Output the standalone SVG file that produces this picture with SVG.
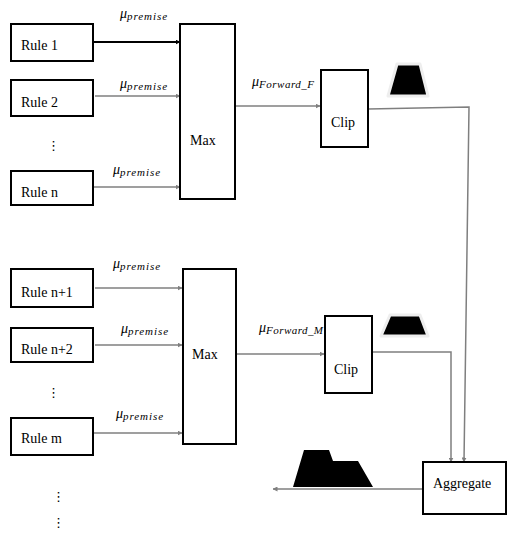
<svg xmlns="http://www.w3.org/2000/svg" width="518" height="537" viewBox="0 0 518 537">
<defs>
<style>
.box{fill:#fff;stroke:#000;stroke-width:2}
.t{font-family:'Liberation Serif','Times New Roman',serif;font-size:14px;fill:#000}
.mu{font-family:'Liberation Serif','Times New Roman',serif;font-style:italic;font-size:14px;fill:#000}
.sub{font-family:'Liberation Serif','Times New Roman',serif;font-style:italic;font-size:11px;fill:#000}
.ln{fill:none;stroke:#7f7f7f;stroke-width:1.5}
.dots{font-family:'DejaVu Sans',sans-serif;font-size:13px;fill:#000}
.shape{fill:#000;stroke:#eeeeee;stroke-width:3;stroke-linejoin:round}
</style>
<marker id="ag" viewBox="0 0 10 10" refX="9" refY="5" markerWidth="5" markerHeight="5" orient="auto" markerUnits="userSpaceOnUse"><path d="M0,0 L10,5 L0,10 z" fill="#7f7f7f"/></marker>
<marker id="ab" viewBox="0 0 10 10" refX="9" refY="5" markerWidth="5" markerHeight="5" orient="auto" markerUnits="userSpaceOnUse"><path d="M0,0 L10,5 L0,10 z" fill="#000"/></marker>
</defs>

<g id="connectors">
<line x1="93" y1="42" x2="180" y2="42" stroke="#000" stroke-width="1.8" marker-end="url(#ab)"/>
<line class="ln" x1="95" y1="96" x2="180" y2="96" marker-end="url(#ag)"/>
<line class="ln" x1="93" y1="187" x2="180" y2="187" marker-end="url(#ag)"/>
<line class="ln" x1="235" y1="106" x2="320" y2="106" marker-end="url(#ag)"/>
<line class="ln" x1="95" y1="288" x2="182" y2="288" marker-end="url(#ag)"/>
<line class="ln" x1="95" y1="345" x2="182" y2="345" marker-end="url(#ag)"/>
<line class="ln" x1="93" y1="433" x2="182" y2="433" marker-end="url(#ag)"/>
<line class="ln" x1="236" y1="354" x2="324" y2="354" marker-end="url(#ag)"/>
<polyline class="ln" points="368,109 469,107 464,462" marker-end="url(#ag)"/>
<polyline class="ln" points="372,352 451,352 451,462" marker-end="url(#ag)"/>
<line class="ln" x1="423" y1="489" x2="273" y2="489" marker-end="url(#ag)"/>
</g>

<g id="labels">
<text x="120" y="18"><tspan class="mu">μ</tspan><tspan class="sub" dy="2" textLength="40">premise</tspan></text>
<text x="120" y="88"><tspan class="mu">μ</tspan><tspan class="sub" dy="2" textLength="40">premise</tspan></text>
<text x="113" y="174"><tspan class="mu">μ</tspan><tspan class="sub" dy="2" textLength="40">premise</tspan></text>
<text x="113" y="268"><tspan class="mu">μ</tspan><tspan class="sub" dy="2" textLength="40">premise</tspan></text>
<text x="121" y="333"><tspan class="mu">μ</tspan><tspan class="sub" dy="2" textLength="40">premise</tspan></text>
<text x="116" y="418"><tspan class="mu">μ</tspan><tspan class="sub" dy="2" textLength="40">premise</tspan></text>
<text x="252" y="86"><tspan class="mu">μ</tspan><tspan class="sub" dy="2" textLength="55">Forward_F</tspan></text>
<text x="259" y="332"><tspan class="mu">μ</tspan><tspan class="sub" dy="2" textLength="57">Forward_M</tspan></text>
<text class="dots" x="47" y="150">⋮</text>
<text class="dots" x="47" y="397">⋮</text>
<text class="dots" x="52" y="501">⋮</text>
<text class="dots" x="52" y="527">⋮</text>
</g>

<g id="rule1"><rect class="box" x="11" y="24" width="82" height="37"/><text class="t" x="21" y="50">Rule 1</text></g>
<g id="rule2"><rect class="box" x="11" y="80" width="82" height="36"/><text class="t" x="21" y="107">Rule 2</text></g>
<g id="rulen"><rect class="box" x="11" y="171" width="82" height="34"/><text class="t" x="21" y="197">Rule n</text></g>
<g id="max1"><rect class="box" x="180" y="24" width="55" height="175"/><text class="t" x="190" y="145">Max</text></g>
<g id="clip1"><rect class="box" x="321" y="70" width="47" height="77"/><text class="t" x="331" y="127">Clip</text></g>
<g id="shape1"><polygon class="shape" points="397,64 420,64 428,96 388,96"/></g>

<g id="rulen1"><rect class="box" x="11" y="269" width="82" height="38"/><text class="t" x="21" y="297">Rule n+1</text></g>
<g id="rulen2"><rect class="box" x="11" y="328" width="82" height="34"/><text class="t" x="21" y="354">Rule n+2</text></g>
<g id="rulem"><rect class="box" x="11" y="418" width="82" height="37"/><text class="t" x="21" y="443">Rule m</text></g>
<g id="max2"><rect class="box" x="183" y="269" width="53" height="175"/><text class="t" x="192" y="359">Max</text></g>
<g id="clip2"><rect class="box" x="325" y="316" width="47" height="77"/><text class="t" x="334" y="374">Clip</text></g>
<g id="shape2"><polygon class="shape" points="390,315 420,315 428,336 381,336"/></g>

<g id="aggregate"><rect class="box" x="423" y="462" width="83" height="52"/><text class="t" x="433" y="488">Aggregate</text></g>
<g id="shape3"><polygon fill="#000" points="293,487 304,450 329,450 333,461 358,461 373,487"/></g>
</svg>
